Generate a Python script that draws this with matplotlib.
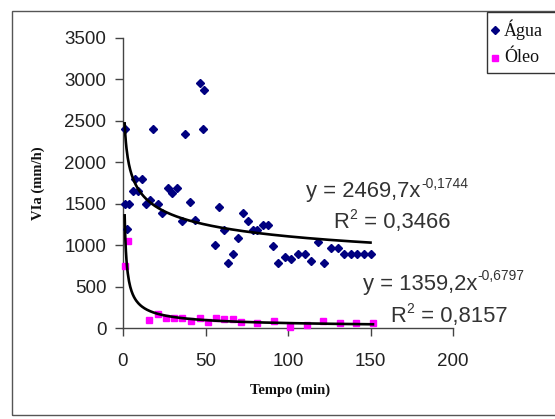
import matplotlib
matplotlib.use("Agg")
import matplotlib.pyplot as plt
import numpy as np
from matplotlib.patches import Rectangle
from matplotlib.lines import Line2D

# --- data ---
agua_t = [1, 1, 2.5, 3.5, 6, 7.5, 9, 11.5, 14, 16.5, 18, 21, 23.5, 27, 29.5, 32.5,
          36, 37.6, 40.6, 43.6, 46.7, 48.3, 49, 55.8, 58, 61, 63.6, 66.7, 69.7,
          72.7, 75.8, 79, 81, 85, 88, 91, 94, 98, 102, 106, 110, 114, 118, 122,
          126, 130, 134, 138, 142, 146, 150]
agua_v = [2400, 1500, 1200, 1500, 1650, 1800, 1650, 1800, 1500, 1550, 2400, 1500,
          1390, 1690, 1630, 1690, 1290, 2340, 1520, 1300, 2960, 2400, 2870, 1000,
          1460, 1180, 790, 890, 1090, 1390, 1290, 1180, 1180, 1240, 1240, 990, 790,
          860, 830, 890, 890, 810, 1040, 790, 970, 970, 890, 890, 890, 890, 890]

oleo_t = [1, 3, 16, 21, 26, 31, 36, 41.5, 46.5, 51.5, 56.5, 61.5, 66.5, 71.5,
          81.5, 91.5, 101.5, 111.5, 121.5, 131.5, 141.5, 151.5]
oleo_v = [750, 1050, 100, 165, 115, 125, 125, 80, 125, 70, 125, 110, 110, 76,
          60, 80, 15, 35, 80, 60, 60, 60]

# power trendline coefficients (as shown on the chart)
agua_a, agua_b = 2469.7, -0.1744
oleo_a, oleo_b = 1359.2, -0.6797

x_ticks = [0, 50, 100, 150, 200]
y_ticks = [0, 500, 1000, 1500, 2000, 2500, 3000, 3500]

W, H = 555, 419
fig = plt.figure(figsize=(W / 100, H / 100), dpi=100)
fig.patch.set_facecolor("white")

# chart area border (cut off at right edge)
fig.patches.append(Rectangle((11.5 / W, 1 - 415 / H), 600 / W, (415 - 11.5) / H,
                             transform=fig.transFigure, fill=False,
                             edgecolor="#555555", linewidth=1.0, zorder=0))

ax = fig.add_axes([123 / W, 1 - 328 / H, (453 - 123) / W, (328 - 38) / H])
ax.set_xlim(0, 200)
ax.set_ylim(0, 3500)
for s in ["top", "right"]:
    ax.spines[s].set_visible(False)
for s in ["left", "bottom"]:
    ax.spines[s].set_color("#444444")
    ax.spines[s].set_linewidth(1.0)

ax.set_xticks(x_ticks)
ax.set_yticks(y_ticks)
ax.tick_params(axis="both", direction="out", length=6, width=1.0, color="#444444",
               labelcolor="#222222")
ax.tick_params(axis="y", pad=6)
ax.tick_params(axis="x", pad=12)
for lab in ax.get_xticklabels() + ax.get_yticklabels():
    lab.set_fontfamily("Liberation Sans")
    lab.set_fontsize(13.5)

ax.plot(agua_t, agua_v, linestyle="none", marker="D", markersize=4.2,
        color="#000080", clip_on=False, zorder=3)
ax.plot(oleo_t, oleo_v, linestyle="none", marker="s", markersize=4.8,
        color="#FF00FF", clip_on=False, zorder=3)

xa = np.linspace(min(agua_t), max(agua_t), 400)
ax.plot(xa, agua_a * xa ** agua_b, color="black", linewidth=1.9, zorder=4)
xo = np.linspace(min(oleo_t), max(oleo_t), 400)
ax.plot(xo, oleo_a * xo ** oleo_b, color="black", linewidth=1.9, zorder=4)

renderer = fig.canvas.get_renderer()
eqfont = dict(fontfamily="Liberation Sans", fontsize=15.8, color="#333333")
supfont = dict(fontfamily="Liberation Sans", fontsize=10, color="#333333")


def text_with_sup(x_px, base_px, main, sup, rest=""):
    t = fig.text(x_px / W, 1 - base_px / H, main, ha="left", va="baseline", **eqfont)
    bb = t.get_window_extent(renderer)
    x2 = bb.x1 + 0.5
    s = fig.text(x2 / W, 1 - (base_px - 9.5) / H, sup, ha="left", va="baseline",
                 **supfont)
    if rest:
        bb2 = s.get_window_extent(renderer)
        fig.text((bb2.x1 + 1) / W, 1 - base_px / H, rest, ha="left",
                 va="baseline", **eqfont)


text_with_sup(306, 197, "y = 2469,7x", "-0,1744")
text_with_sup(333, 228, "R", "2", " = 0,3466")
text_with_sup(363, 290, "y = 1359,2x", "-0,6797")
text_with_sup(390, 322, "R", "2", " = 0,8157")

fig.text(38 / W, 1 - 183 / H, "VIa (mm/h)", rotation=90, ha="center", va="center",
         fontfamily="Liberation Serif", fontweight="bold", fontsize=10.5,
         color="#111111")
fig.text(290 / W, 1 - 390 / H, "Tempo (min)", ha="center", va="center",
         fontfamily="Liberation Serif", fontweight="bold", fontsize=10.5,
         color="#111111")

# legend (partly cut off at right edge)
fig.patches.append(Rectangle((487 / W, 1 - 73 / H), 200 / W, (73 - 12.5) / H,
                             transform=fig.transFigure, fill=True, facecolor="white",
                             edgecolor="#333333", linewidth=1.0, zorder=5))
fig.lines.append(Line2D([495 / W], [1 - 30 / H], transform=fig.transFigure,
                        marker="D", markersize=4.2, color="#000080",
                        linestyle="none", zorder=6))
fig.lines.append(Line2D([495 / W], [1 - 58 / H], transform=fig.transFigure,
                        marker="s", markersize=4.8, color="#FF00FF",
                        linestyle="none", zorder=6))
fig.text(504 / W, 1 - 30 / H, "Água", ha="left", va="center",
         fontfamily="Liberation Serif", fontsize=13, color="#111111", zorder=6)
fig.text(504 / W, 1 - 58 / H, "Óleo", ha="left", va="center",
         fontfamily="Liberation Serif", fontsize=13, color="#111111", zorder=6)

fig.savefig("out.png", dpi=100)
